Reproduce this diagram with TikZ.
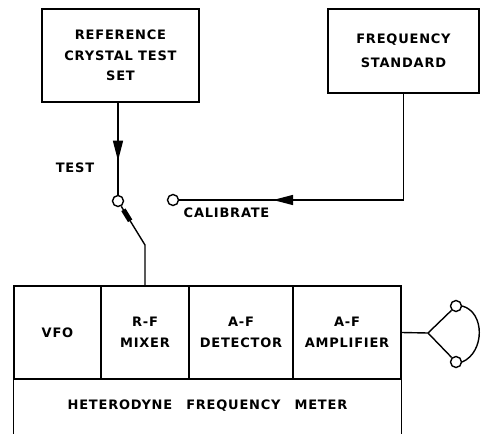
\documentclass[tikz,border=0pt]{standalone}
\usepackage{fontspec}
\newfontfamily\lblfont{DejaVu Sans}[LetterSpace=6]
\usetikzlibrary{positioning, arrows.meta, calc, decorations.markings}

\begin{document}
\begin{tikzpicture}[
  x=1pt, y=-1pt,
  font=\lblfont\bfseries\fontsize{13}{20.5}\selectfont,
  line width=1.4pt,
  unit/.style={draw, align=center, inner sep=0pt},
  cell/.style={unit, minimum height=93pt},
  term/.style={draw, circle, fill=white, minimum size=11pt, inner sep=0pt},
  flow/.style={postaction={decorate}, decoration={markings,
      mark=at position #1 with {\arrow{Triangle[length=20pt, width=10pt]}}}},
]
\useasboundingbox (0,0) rectangle (481,433);
% sources
\node[unit, minimum width=157pt, minimum height=93pt] (ref) at (120.5,55.5)
  {REFERENCE\\CRYSTAL TEST\\SET};
\node[unit, minimum width=151pt, minimum height=84pt] (freq) at (403.5,51)
  {FREQUENCY\\[3pt]STANDARD};
% switch
\node[term] (sw) at (118,201) {};
\node[term] (cal) at (173,200) {};
\node (test) at (75,168) {TEST};
\node[anchor=west, inner sep=0pt] (callbl) at (183,213) {CALIBRATE};
\draw[flow=0.63] (ref.south -| sw) -- (sw);
\draw[flow=0.716] (freq.south) |- (cal);
% meter
\node[cell, minimum width=87pt] (vfo) at (57.5,332.5) {VFO};
\node[cell, minimum width=88pt] (mixer) at (145,332.5) {R-F\\MIXER};
\node[cell, minimum width=104pt] (det) at (241,332.5) {A-F\\DETECTOR};
\node[cell, minimum width=108pt] (amp) at (347,332.5) {A-F\\AMPLIFIER};
\node[inner sep=0pt, minimum width=387pt, minimum height=54pt] (meter) at (207.5,406)
  {HETERODYNE\hspace{14pt}FREQUENCY\hspace{14pt}METER};
\draw (vfo.south west) -- (meter.south west);
\draw (amp.south east) -- (meter.south east);
% blade
\coordinate (bend) at (145,245);
\draw (sw) -- (bend) -- (mixer.north);
\draw[line width=5pt] ($(sw)!0.2!(bend)$) -- ($(sw)!0.45!(bend)$);
% phones
\coordinate (hp) at (428,333);
\node[term] (ear1) at (456,306) {};
\node[term] (ear2) at (456,362) {};
\draw (amp.east) -- (hp) -- (ear1);
\draw (hp) -- (ear2);
\draw (ear1.east) .. controls (485,312) and (485,352) .. (ear2.east);
\end{tikzpicture}
\end{document}
